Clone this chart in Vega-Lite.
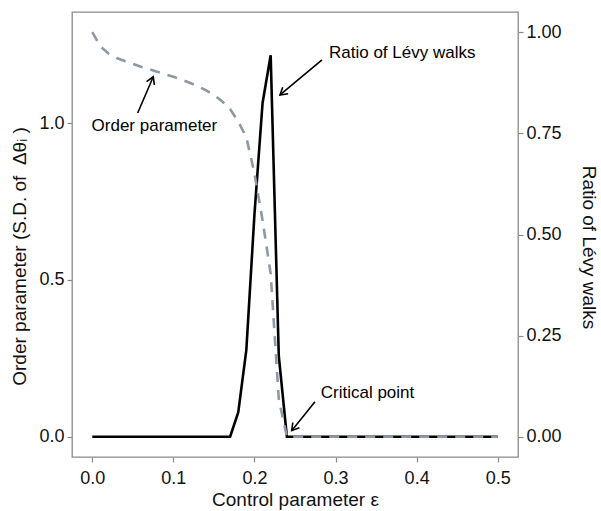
{
  "$schema": "https://vega.github.io/schema/vega-lite/v6.json",
  "width": 446,
  "height": 445,
  "autosize": {"type": "none"},
  "padding": {"left": 72, "top": 12, "right": 83, "bottom": 54},
  "background": "white",
  "config": {
    "font": "Liberation Sans",
    "view": {"stroke": "#8a8a8a", "strokeWidth": 1.3},
    "axis": {
      "domain": false,
      "grid": false,
      "tickColor": "#8a8a8a",
      "tickSize": 5,
      "tickWidth": 1.2,
      "labelColor": "#111111",
      "labelFont": "Liberation Sans",
      "labelFontSize": 18,
      "labelPadding": 3,
      "titleFont": "Liberation Sans",
      "titleFontSize": 19,
      "titleFontWeight": "normal",
      "titleColor": "#111111"
    }
  },
  "datasets": {
    "series": [
      {"eps": 0.00, "order": 1.29, "ratio": 0},
      {"eps": 0.01, "order": 1.245, "ratio": 0},
      {"eps": 0.02, "order": 1.222, "ratio": 0},
      {"eps": 0.03, "order": 1.208, "ratio": 0},
      {"eps": 0.04, "order": 1.198, "ratio": 0},
      {"eps": 0.05, "order": 1.189, "ratio": 0},
      {"eps": 0.06, "order": 1.18, "ratio": 0},
      {"eps": 0.07, "order": 1.172, "ratio": 0},
      {"eps": 0.08, "order": 1.164, "ratio": 0},
      {"eps": 0.09, "order": 1.156, "ratio": 0},
      {"eps": 0.10, "order": 1.148, "ratio": 0},
      {"eps": 0.11, "order": 1.139, "ratio": 0},
      {"eps": 0.12, "order": 1.129, "ratio": 0},
      {"eps": 0.13, "order": 1.118, "ratio": 0},
      {"eps": 0.14, "order": 1.105, "ratio": 0},
      {"eps": 0.15, "order": 1.09, "ratio": 0},
      {"eps": 0.16, "order": 1.07, "ratio": 0},
      {"eps": 0.17, "order": 1.045, "ratio": 0},
      {"eps": 0.18, "order": 1.005, "ratio": 0.06},
      {"eps": 0.19, "order": 0.955, "ratio": 0.215},
      {"eps": 0.20, "order": 0.84, "ratio": 0.55},
      {"eps": 0.21, "order": 0.69, "ratio": 0.825},
      {"eps": 0.22, "order": 0.52, "ratio": 0.943},
      {"eps": 0.23, "order": 0.12, "ratio": 0.2},
      {"eps": 0.24, "order": 0, "ratio": 0},
      {"eps": 0.25, "order": 0, "ratio": 0},
      {"eps": 0.26, "order": 0, "ratio": 0},
      {"eps": 0.27, "order": 0, "ratio": 0},
      {"eps": 0.28, "order": 0, "ratio": 0},
      {"eps": 0.29, "order": 0, "ratio": 0},
      {"eps": 0.30, "order": 0, "ratio": 0},
      {"eps": 0.31, "order": 0, "ratio": 0},
      {"eps": 0.32, "order": 0, "ratio": 0},
      {"eps": 0.33, "order": 0, "ratio": 0},
      {"eps": 0.34, "order": 0, "ratio": 0},
      {"eps": 0.35, "order": 0, "ratio": 0},
      {"eps": 0.36, "order": 0, "ratio": 0},
      {"eps": 0.37, "order": 0, "ratio": 0},
      {"eps": 0.38, "order": 0, "ratio": 0},
      {"eps": 0.39, "order": 0, "ratio": 0},
      {"eps": 0.40, "order": 0, "ratio": 0},
      {"eps": 0.41, "order": 0, "ratio": 0},
      {"eps": 0.42, "order": 0, "ratio": 0},
      {"eps": 0.43, "order": 0, "ratio": 0},
      {"eps": 0.44, "order": 0, "ratio": 0},
      {"eps": 0.45, "order": 0, "ratio": 0},
      {"eps": 0.46, "order": 0, "ratio": 0},
      {"eps": 0.47, "order": 0, "ratio": 0},
      {"eps": 0.48, "order": 0, "ratio": 0},
      {"eps": 0.49, "order": 0, "ratio": 0},
      {"eps": 0.50, "order": 0, "ratio": 0}
    ],
    "labels": [
      {"label": "Order parameter", "lx": 0.0766, "ly": 0.991, "anchor": "mid"},
      {"label": "Ratio of Lévy walks", "lx": 0.2919, "ly": 1.224, "anchor": "left"},
      {"label": "Critical point", "lx": 0.2817, "ly": 0.1387, "anchor": "left"}
    ],
    "arrowOrder": [{"x1": 0.056, "y1": 1.0325, "x2": 0.0752, "y2": 1.148}],
    "arrowRatio": [{"x1": 0.2833, "y1": 1.2015, "x2": 0.2315, "y2": 1.0899}],
    "arrowCrit": [{"x1": 0.2746, "y1": 0.1119, "x2": 0.2459, "y2": 0.0195}]
  },
  "layer": [
    {
      "data": {"name": "series"},
      "mark": {"type": "line", "color": "#000000", "strokeWidth": 2.6, "strokeJoin": "miter"},
      "encoding": {
        "x": {"field": "eps", "type": "quantitative", "scale": {"domain": [-0.025, 0.525], "nice": false, "zero": false},
              "axis": {"title": "Control parameter ε", "values": [0, 0.1, 0.2, 0.3, 0.4, 0.5], "format": ".1f", "labelPadding": 7, "titleY": 42, "titleBaseline": "middle"}},
        "y": {"field": "ratio", "type": "quantitative", "scale": {"domain": [-0.05, 1.05], "nice": false, "zero": false},
              "axis": {"orient": "right", "title": "Ratio of Lévy walks", "values": [0, 0.25, 0.5, 0.75, 1], "format": ".2f", "titleAngle": 90, "titleX": 70, "titleY": 235, "titleBaseline": "middle"}}
      }
    },
    {
      "layer": [
        {
          "data": {"name": "series"},
          "mark": {"type": "line", "color": "#8d99a6", "strokeWidth": 2.6, "strokeDash": [10, 8]},
          "encoding": {
            "x": {"field": "eps", "type": "quantitative", "scale": {"domain": [-0.025, 0.525], "nice": false, "zero": false}},
            "y": {"field": "order", "type": "quantitative", "scale": {"domain": [-0.0645, 1.3545], "nice": false, "zero": false},
                  "axis": {"orient": "left", "title": "Order parameter (S.D. of\u00a0\u00a0Δθᵢ\u00a0)", "values": [0, 0.5, 1], "format": ".1f", "titleAngle": -90, "titleX": -53, "titleY": 244, "titleBaseline": "middle"}}
          }
        },
        {
          "data": {"name": "labels"},
          "transform": [{"filter": "datum.anchor == 'mid'"}],
          "mark": {"type": "text", "align": "center", "baseline": "middle", "fontSize": 17, "font": "Liberation Sans", "color": "#000000"},
          "encoding": {
            "x": {"field": "lx", "type": "quantitative"},
            "y": {"field": "ly", "type": "quantitative"},
            "text": {"field": "label"}
          }
        },
        {
          "data": {"name": "labels"},
          "transform": [{"filter": "datum.anchor == 'left'"}],
          "mark": {"type": "text", "align": "left", "baseline": "middle", "fontSize": 17, "font": "Liberation Sans", "color": "#000000"},
          "encoding": {
            "x": {"field": "lx", "type": "quantitative"},
            "y": {"field": "ly", "type": "quantitative"},
            "text": {"field": "label"}
          }
        },
        {
          "data": {"name": "arrowOrder"},
          "layer": [
            {"mark": {"type": "rule", "color": "#000000", "strokeWidth": 1.6},
             "encoding": {"x": {"field": "x1", "type": "quantitative"}, "y": {"field": "y1", "type": "quantitative"}, "x2": {"field": "x2"}, "y2": {"field": "y2"}}},
            {"mark": {"type": "point", "shape": "M-0.6,1L0,0L0.6,1", "filled": false, "stroke": "#000000", "strokeWidth": 1.6, "size": 200, "angle": 23.3, "opacity": 1},
             "encoding": {"x": {"field": "x2", "type": "quantitative"}, "y": {"field": "y2", "type": "quantitative"}}}
          ]
        },
        {
          "data": {"name": "arrowRatio"},
          "layer": [
            {"mark": {"type": "rule", "color": "#000000", "strokeWidth": 1.6},
             "encoding": {"x": {"field": "x1", "type": "quantitative"}, "y": {"field": "y1", "type": "quantitative"}, "x2": {"field": "x2"}, "y2": {"field": "y2"}}},
            {"mark": {"type": "point", "shape": "M-0.6,1L0,0L0.6,1", "filled": false, "stroke": "#000000", "strokeWidth": 1.6, "size": 200, "angle": 230.2, "opacity": 1},
             "encoding": {"x": {"field": "x2", "type": "quantitative"}, "y": {"field": "y2", "type": "quantitative"}}}
          ]
        },
        {
          "data": {"name": "arrowCrit"},
          "layer": [
            {"mark": {"type": "rule", "color": "#000000", "strokeWidth": 1.6},
             "encoding": {"x": {"field": "x1", "type": "quantitative"}, "y": {"field": "y1", "type": "quantitative"}, "x2": {"field": "x2"}, "y2": {"field": "y2"}}},
            {"mark": {"type": "point", "shape": "M-0.6,1L0,0L0.6,1", "filled": false, "stroke": "#000000", "strokeWidth": 1.6, "size": 200, "angle": 218.8, "opacity": 1},
             "encoding": {"x": {"field": "x2", "type": "quantitative"}, "y": {"field": "y2", "type": "quantitative"}}}
          ]
        }
      ]
    }
  ],
  "resolve": {"scale": {"y": "independent"}, "axis": {"y": "independent"}}
}
